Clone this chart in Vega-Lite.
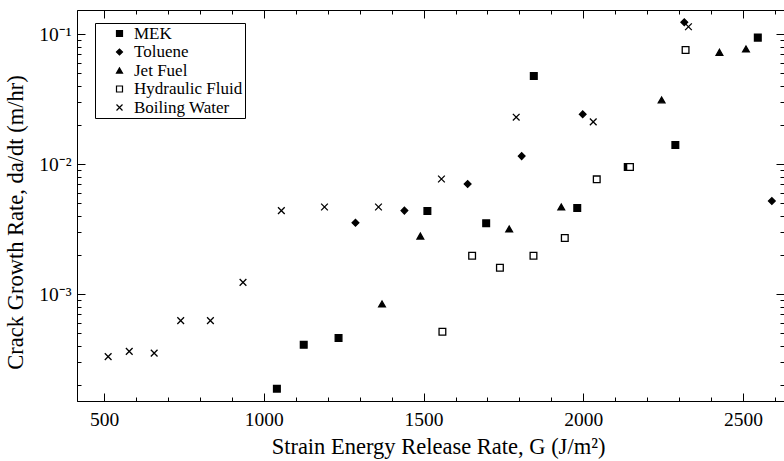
{
  "$schema": "https://vega.github.io/schema/vega-lite/v6.json",
  "width": 707,
  "height": 391,
  "autosize": {"type": "none"},
  "padding": {"left": 77, "top": 10, "right": 0, "bottom": 60},
  "background": "white",
  "config": {
    "font": "Liberation Serif",
    "view": {"stroke": "black", "strokeWidth": 1},
    "axis": {
      "grid": false,
      "domainColor": "black",
      "tickColor": "black",
      "labelColor": "black",
      "titleColor": "black",
      "labelFont": "Liberation Serif",
      "titleFont": "Liberation Serif",
      "labelFontSize": 19.5,
      "titleFontSize": 22.5,
      "titleFontWeight": "normal"
    },
    "legend": {"labelFont": "Liberation Serif"}
  },
  "data": {
    "values": [
      {"G": 1041, "rate": 0.000187, "fluid": "MEK"},
      {"G": 1125, "rate": 0.000407, "fluid": "MEK"},
      {"G": 1234, "rate": 0.000459, "fluid": "MEK"},
      {"G": 1512, "rate": 0.00435, "fluid": "MEK"},
      {"G": 1696, "rate": 0.0035, "fluid": "MEK"},
      {"G": 1845, "rate": 0.0475, "fluid": "MEK"},
      {"G": 1981, "rate": 0.00459, "fluid": "MEK"},
      {"G": 2139, "rate": 0.00948, "fluid": "MEK"},
      {"G": 2288, "rate": 0.014, "fluid": "MEK"},
      {"G": 2546, "rate": 0.0938, "fluid": "MEK"},
      {"G": 1287, "rate": 0.00353, "fluid": "Toluene"},
      {"G": 1440, "rate": 0.00438, "fluid": "Toluene"},
      {"G": 1638, "rate": 0.00702, "fluid": "Toluene"},
      {"G": 1807, "rate": 0.0115, "fluid": "Toluene"},
      {"G": 1998, "rate": 0.0241, "fluid": "Toluene"},
      {"G": 2316, "rate": 0.123, "fluid": "Toluene"},
      {"G": 2590, "rate": 0.00519, "fluid": "Toluene"},
      {"G": 1370, "rate": 0.000837, "fluid": "Jet Fuel"},
      {"G": 1490, "rate": 0.00279, "fluid": "Jet Fuel"},
      {"G": 1768, "rate": 0.00316, "fluid": "Jet Fuel"},
      {"G": 1931, "rate": 0.00467, "fluid": "Jet Fuel"},
      {"G": 2245, "rate": 0.0311, "fluid": "Jet Fuel"},
      {"G": 2426, "rate": 0.0723, "fluid": "Jet Fuel"},
      {"G": 2509, "rate": 0.0767, "fluid": "Jet Fuel"},
      {"G": 1559, "rate": 0.000513, "fluid": "Hydraulic Fluid"},
      {"G": 1652, "rate": 0.00197, "fluid": "Hydraulic Fluid"},
      {"G": 1739, "rate": 0.00159, "fluid": "Hydraulic Fluid"},
      {"G": 1844, "rate": 0.00197, "fluid": "Hydraulic Fluid"},
      {"G": 1942, "rate": 0.0027, "fluid": "Hydraulic Fluid"},
      {"G": 2042, "rate": 0.00762, "fluid": "Hydraulic Fluid"},
      {"G": 2146, "rate": 0.00948, "fluid": "Hydraulic Fluid"},
      {"G": 2320, "rate": 0.0753, "fluid": "Hydraulic Fluid"},
      {"G": 513, "rate": 0.00033, "fluid": "Boiling Water"},
      {"G": 579, "rate": 0.000362, "fluid": "Boiling Water"},
      {"G": 657, "rate": 0.000351, "fluid": "Boiling Water"},
      {"G": 740, "rate": 0.000624, "fluid": "Boiling Water"},
      {"G": 833, "rate": 0.000624, "fluid": "Boiling Water"},
      {"G": 935, "rate": 0.00123, "fluid": "Boiling Water"},
      {"G": 1055, "rate": 0.00438, "fluid": "Boiling Water"},
      {"G": 1190, "rate": 0.00467, "fluid": "Boiling Water"},
      {"G": 1359, "rate": 0.00467, "fluid": "Boiling Water"},
      {"G": 1556, "rate": 0.00767, "fluid": "Boiling Water"},
      {"G": 1790, "rate": 0.0229, "fluid": "Boiling Water"},
      {"G": 2031, "rate": 0.0211, "fluid": "Boiling Water"},
      {"G": 2329, "rate": 0.1137, "fluid": "Boiling Water"}
    ]
  },
  "layer": [
    {
      "mark": {"type": "point", "filled": false, "strokeWidth": 1.3, "size": 45, "opacity": 1, "clip": true},
      "encoding": {
        "x": {"field": "G", "type": "quantitative",
          "scale": {"domain": [415.5, 2628], "nice": false, "zero": false},
          "axis": {"orient": "bottom", "values": [500, 1000, 1500, 2000, 2500], "format": "d", "tickSize": -8, "labelPadding": 17, "domain": true,
            "labelFont": "Liberation Serif", "titleFont": "Liberation Serif",
            "title": "Strain Energy Release Rate, G (J/m²)", "titleX": 361, "titleY": 34, "titleBaseline": "top"}},
        "y": {"field": "rate", "type": "quantitative",
          "scale": {"type": "log", "domain": [0.0001503, 0.153], "nice": false},
          "axis": {"orient": "left", "values": [0.001, 0.01, 0.1], "tickSize": -8, "labelPadding": 14, "domain": true,
            "labelFont": "Liberation Serif", "titleFont": "Liberation Serif",
            "labelExpr": "round(log(datum.value)/LN10) == -1 ? '10⁻¹' : round(log(datum.value)/LN10) == -2 ? '10⁻²' : '10⁻³'",
            "title": "Crack Growth Rate, da/dt (m/hr)", "titleX": -50, "titleY": 212, "titleBaseline": "bottom"}},
        "stroke": {"field": "fluid", "type": "nominal",
          "scale": {"domain": ["MEK", "Toluene", "Jet Fuel", "Hydraulic Fluid", "Boiling Water"],
            "range": ["black", "black", "black", "black", "black"]},
          "legend": {"title": null, "orient": "none", "legendX": 18, "legendY": 13,
            "strokeColor": "black", "fillColor": "white", "padding": 2,
            "labelFont": "Liberation Serif", "labelFontSize": 17, "labelColor": "black",
            "symbolSize": 36, "symbolOffset": 14, "labelOffset": 6, "symbolStrokeWidth": 1.2,
            "rowPadding": 0.5, "cornerRadius": 0}},
        "shape": {"field": "fluid", "type": "nominal",
          "scale": {"domain": ["MEK", "Toluene", "Jet Fuel", "Hydraulic Fluid", "Boiling Water"],
            "range": ["square", "diamond", "triangle-up", "square", "M-1,-1L1,1M-1,1L1,-1"]},
          "legend": {"title": null, "orient": "none", "legendX": 18, "legendY": 13,
            "strokeColor": "black", "fillColor": "white", "padding": 2,
            "labelFont": "Liberation Serif", "labelFontSize": 17, "labelColor": "black",
            "symbolSize": 36, "symbolOffset": 14, "labelOffset": 6, "symbolStrokeWidth": 1.2,
            "rowPadding": 0.5, "cornerRadius": 0}},
        "fill": {"field": "fluid", "type": "nominal",
          "scale": {"domain": ["MEK", "Toluene", "Jet Fuel", "Hydraulic Fluid", "Boiling Water"],
            "range": ["black", "black", "black", "white", "transparent"]},
          "legend": {"title": null, "orient": "none", "legendX": 18, "legendY": 13,
            "strokeColor": "black", "fillColor": "white", "padding": 2,
            "labelFont": "Liberation Serif", "labelFontSize": 17, "labelColor": "black",
            "symbolSize": 36, "symbolOffset": 14, "labelOffset": 6, "symbolStrokeWidth": 1.2,
            "rowPadding": 0.5, "cornerRadius": 0}}
      }
    },
    {
      "mark": {"type": "point", "opacity": 0},
      "encoding": {
        "x": {"field": "G", "type": "quantitative",
          "axis": {"orient": "bottom", "values": [600, 700, 800, 900, 1100, 1200, 1300, 1400, 1600, 1700, 1800, 1900, 2100, 2200, 2300, 2400, 2600], "tickSize": -4, "labels": false, "domain": false, "title": null}},
        "y": {"field": "rate", "type": "quantitative",
          "axis": {"orient": "left", "values": [0.0002, 0.0003, 0.0004, 0.0005, 0.0006, 0.0007, 0.0008, 0.0009, 0.002, 0.003, 0.004, 0.005, 0.006, 0.007, 0.008, 0.009, 0.02, 0.03, 0.04, 0.05, 0.06, 0.07, 0.08, 0.09], "tickSize": -4, "labels": false, "domain": false, "title": null}}
      }
    },
    {
      "mark": {"type": "point", "opacity": 0},
      "encoding": {
        "x": {"field": "G", "type": "quantitative",
          "axis": {"orient": "top", "values": [500, 1000, 1500, 2000, 2500], "tickSize": -8, "labels": false, "domain": false, "title": null}},
        "y": {"field": "rate", "type": "quantitative",
          "axis": {"orient": "right", "values": [0.001, 0.01, 0.1], "tickSize": -8, "labels": false, "domain": false, "title": null}}
      }
    },
    {
      "mark": {"type": "point", "opacity": 0},
      "encoding": {
        "x": {"field": "G", "type": "quantitative",
          "axis": {"orient": "top", "values": [600, 700, 800, 900, 1100, 1200, 1300, 1400, 1600, 1700, 1800, 1900, 2100, 2200, 2300, 2400, 2600], "tickSize": -4, "labels": false, "domain": false, "title": null}},
        "y": {"field": "rate", "type": "quantitative",
          "axis": {"orient": "right", "values": [0.0002, 0.0003, 0.0004, 0.0005, 0.0006, 0.0007, 0.0008, 0.0009, 0.002, 0.003, 0.004, 0.005, 0.006, 0.007, 0.008, 0.009, 0.02, 0.03, 0.04, 0.05, 0.06, 0.07, 0.08, 0.09], "tickSize": -4, "labels": false, "domain": false, "title": null}}
      }
    }
  ],
  "resolve": {"axis": {"x": "independent", "y": "independent"}}
}
